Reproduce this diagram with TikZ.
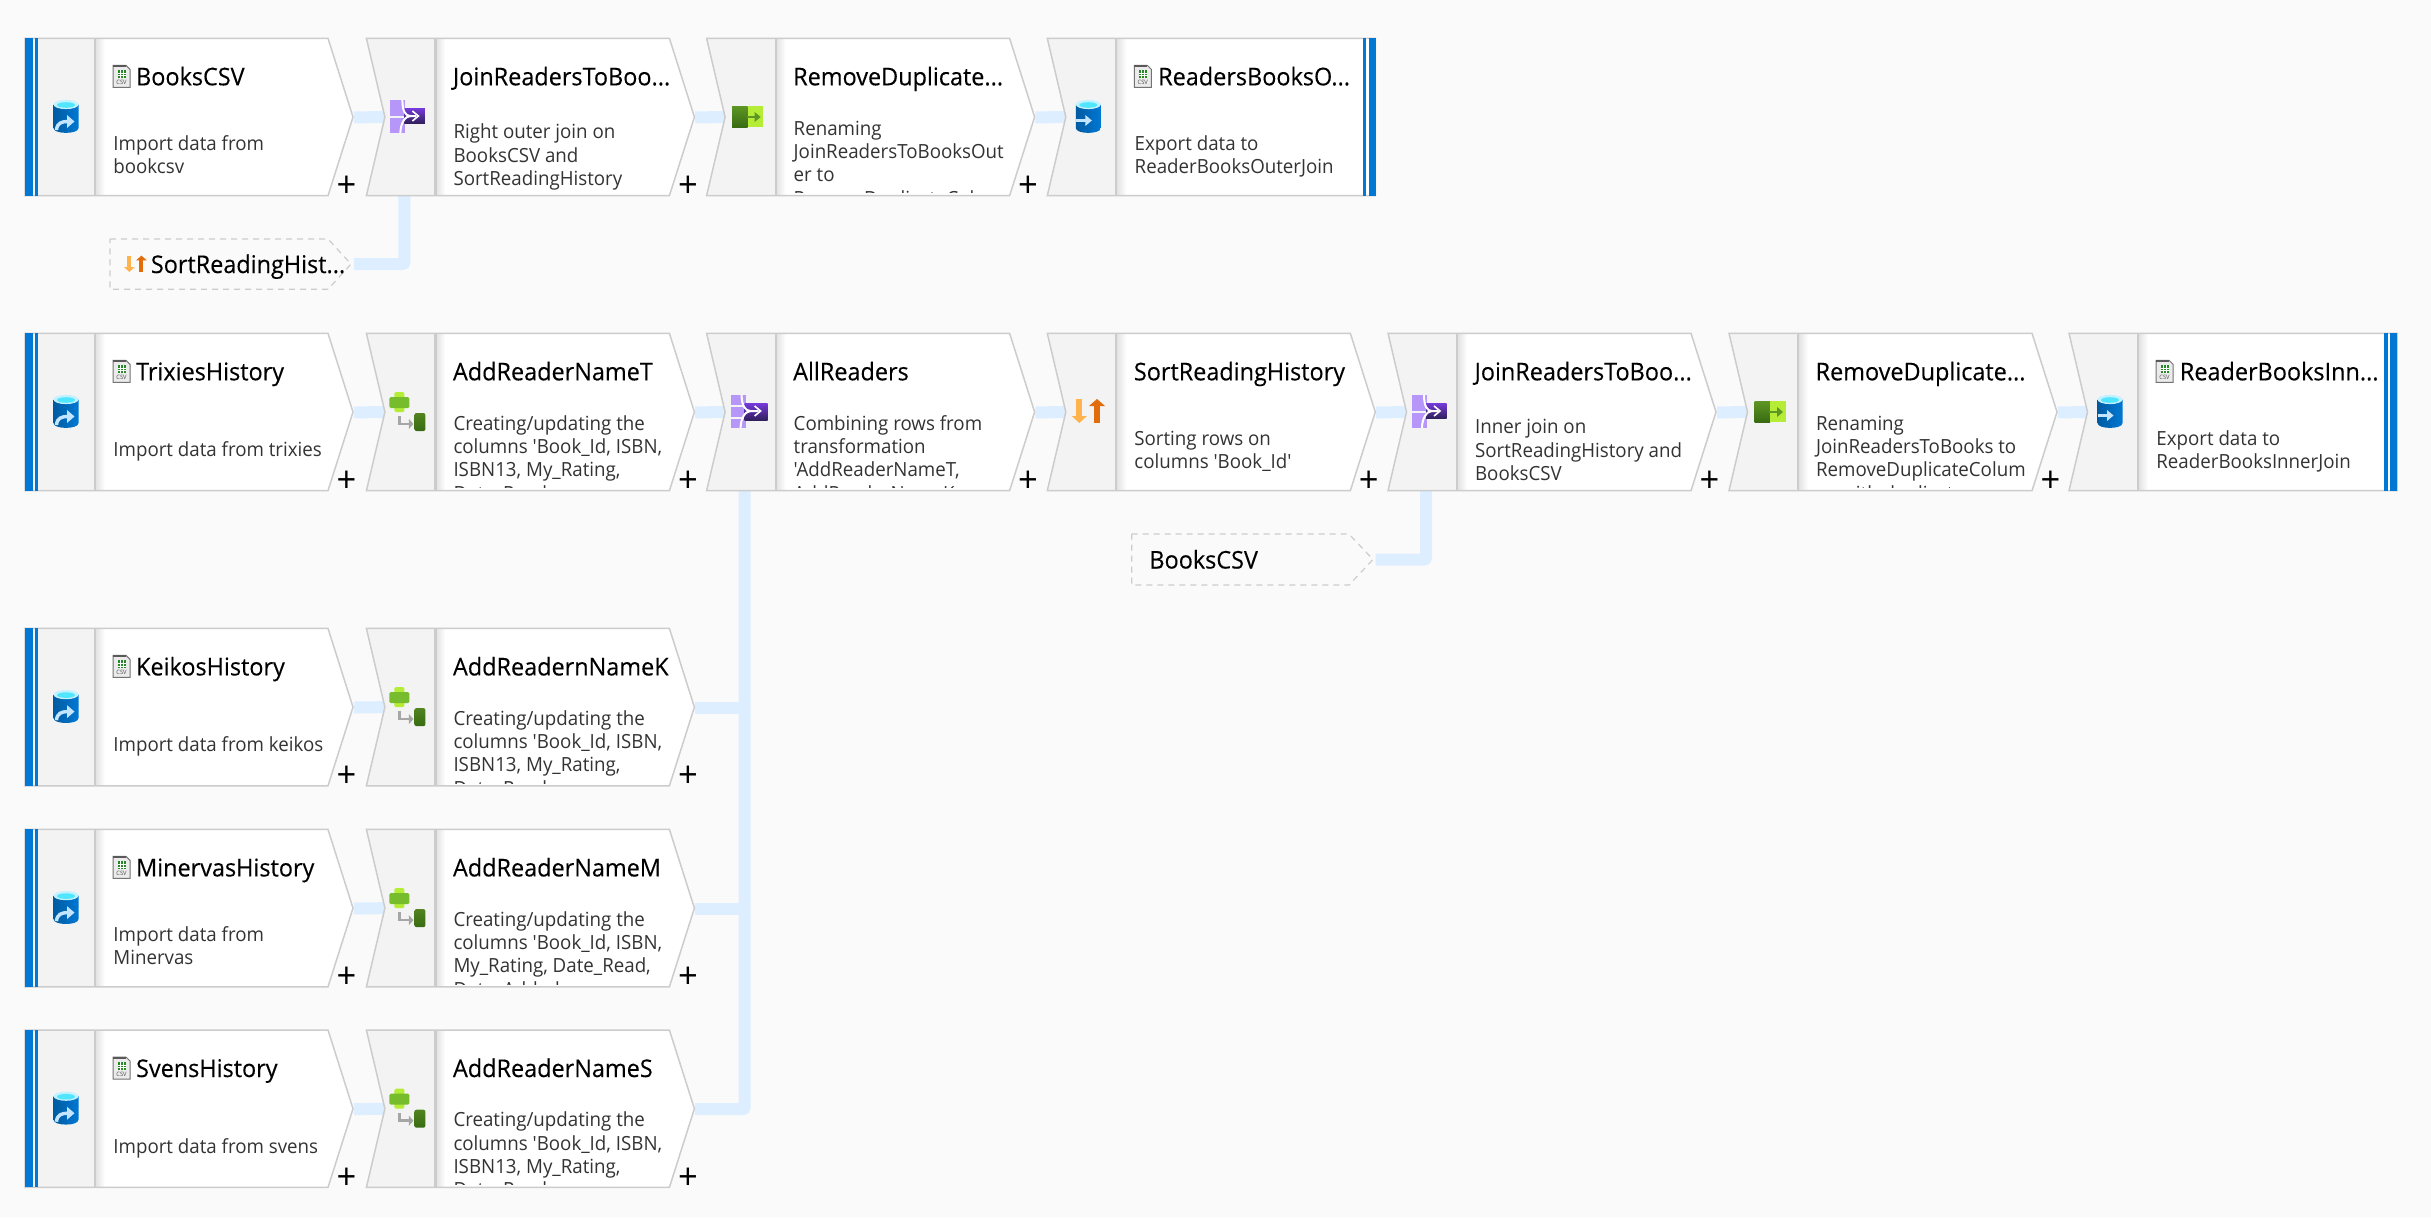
\documentclass[tikz,border=0pt]{standalone}
\usepackage{fontspec}
\setmainfont{Open Sans}[Ligatures=TeXOff,FakeStretch=0.96]
\newfontfamily\titlefamily{Open Sans}[Ligatures=TeXOff,FakeStretch=0.96,FakeBold=0.25]
\usetikzlibrary{backgrounds}
\definecolor{pagebg}{HTML}{FAFAFA}
\definecolor{panelc}{HTML}{F3F3F3}
\definecolor{borderc}{HTML}{CCCCCC}
\definecolor{connc}{HTML}{DCEEFF}
\definecolor{stripec}{HTML}{0078D4}
\definecolor{descc}{HTML}{333333}
\definecolor{lpurple}{HTML}{B796F9}
\definecolor{dpurple}{HTML}{32205E}
\definecolor{mpurple}{HTML}{773ADC}
\definecolor{lime}{HTML}{B4EC36}
\definecolor{mgreen}{HTML}{76BC2D}
\definecolor{dgreen}{HTML}{386B12}
\definecolor{ngreen}{HTML}{5E9624}
\definecolor{lorange}{HTML}{FFB34D}
\definecolor{dorange}{HTML}{E36C0A}
\definecolor{cyl}{HTML}{0078D4}
\definecolor{cyld}{HTML}{005BA1}
\definecolor{cylt}{HTML}{50E6FF}
\definecolor{cylr}{HTML}{C3F1FF}
\definecolor{arrowc}{HTML}{C3E5FF}
\tikzset{
  x=0.5pt,y=-0.5pt,
  conn/.style={draw=connc,line width=6pt,rounded corners=1pt},
  stageframe/.style={draw=borderc,line width=0.75pt,line join=miter},
  titletext/.style={inner sep=0pt,anchor=base west,font=\titlefamily\fontsize{12.2}{14}\selectfont,text=black},
  desctext/.style={inner sep=0pt,anchor=base west,font=\fontsize{9.75}{11.7}\selectfont,text=descc},
  plustext/.style={inner sep=0pt,font=\fontsize{18}{18}\selectfont,text=black},
  refframe/.style={draw=borderc,line width=0.6pt,dash pattern=on 3pt off 2.5pt},
}
\newcommand{\Ln}[1]{\hbox{#1}}
\newcommand{\kindsrc}{\def\stagepath{(0,0)--(303,0)--(328,78.7)--(303,157.4)--(0,157.4)--cycle}\def\divx{70}\def\titlex{110.7}\def\descx{88}\def\csvx{88}}
\newcommand{\kindmid}{\def\stagepath{(0,0)--(303,0)--(328,78.7)--(303,157.4)--(0,157.4)--(18.5,78.7)--cycle}\def\divx{69}\def\titlex{86.2}\def\descx{86.7}}
\newcommand{\kindsnk}{\def\stagepath{(0,0)--(328,0)--(328,157.4)--(0,157.4)--(18.5,78.7)--cycle}\def\divx{69}\def\titlex{110.5}\def\descx{87}\def\csvx{87}}
% icons: origin at icon centre
\newcommand{\cylbody}{%
  \shade[left color=cyld,right color=cyl] (-12.5,-12.5) -- (-12.5,11) .. controls (-12.5,17.5) and (12.5,17.5) .. (12.5,11) -- (12.5,-12.5) -- cycle;
  \fill[cylr] (0,-12.5) ellipse [x radius=12.5,y radius=4.6];
  \fill[cylt] (0,-12) ellipse [x radius=9,y radius=2.8];
}
\newcommand{\iconsource}{\cylbody
  \draw[arrowc,line width=1.7pt] (-9.5,13) .. controls (-9,6) and (-4,4.5) .. (1.5,4.5);
  \fill[arrowc] (1,-2) -- (8.5,4.5) -- (1,11) -- cycle;
}
\newcommand{\iconsink}{\cylbody
  \draw[arrowc,line width=1.5pt] (-12.5,3.5) -- (-2,3.5);
  \fill[arrowc] (-3,-2) -- (3.5,3.5) -- (-3,9) -- cycle;
}
\newcommand{\iconjoin}{%
  \fill[lpurple] (-17,-17) rectangle (-2,-1.2);
  \fill[lpurple] (-17,1.2) rectangle (-2,16);
  \shade[top color=mpurple,bottom color=dpurple] (-3,-9) rectangle (17.5,6);
  \draw[white,line width=1pt] (-5,-17) .. controls (-5,-6) and (-2,-1) .. (3,-1) -- (9,-1);
  \draw[white,line width=1pt] (-7,16) .. controls (-7,6) and (-2,-1) .. (3,-1);
  \draw[white,line width=0.8pt] (5,-6) -- (11,-1) -- (5,4);
}
\newcommand{\iconunion}{%
  \fill[lpurple] (-17,-17) rectangle (-2,-7.5);
  \fill[lpurple] (-17,-5.5) rectangle (-2,5);
  \fill[lpurple] (-17,7) rectangle (-2,16);
  \shade[top color=mpurple,bottom color=dpurple] (-3,-9) rectangle (20,8);
  \draw[white,line width=1pt] (-6,-17) .. controls (-6,-6) and (-2,-1) .. (3,-1) -- (11,-1);
  \draw[white,line width=1pt] (-7,16) .. controls (-7,6) and (-2,-1) .. (3,-1);
  \draw[white,line width=0.8pt] (7,-6) -- (13,-1) -- (7,4);
}
\newcommand{\iconderive}{%
  \fill[lime,rounded corners=0.7pt] (-13,-20) rectangle (-3,0);
  \fill[mgreen,rounded corners=0.7pt] (-18,-15) rectangle (2,-4);
  \draw[black!35,line width=1.3pt] (-8,4) -- (-8,12) -- (3,12);
  \fill[black!35] (1.5,7) -- (6,12) -- (1.5,17) -- cycle;
  \shade[top color=mgreen!70!black,bottom color=dgreen,rounded corners=1pt] (7,1) rectangle (18,19);
}
\newcommand{\iconselect}{%
  \shade[top color=ngreen,bottom color=dgreen] (-15.5,-11) rectangle (0,10);
  \fill[lime] (0,-11) rectangle (15.5,10);
  \draw[ngreen,line width=1pt] (-1,0) -- (9,0);
  \fill[ngreen] (7,-5) -- (13,0) -- (7,5) -- cycle;
}
\newcommand{\iconsort}{%
  \fill[lorange] (-12,-13) rectangle (-6,4);
  \fill[lorange] (-16.6,4) -- (-1.4,4) -- (-9,11) -- cycle;
  \fill[dorange] (5.7,-6) rectangle (11.7,11);
  \fill[dorange] (0.7,-6) -- (8.7,-13) -- (16.7,-6) -- cycle;
}
\newcommand{\iconcsv}{%
  \fill[white!92!black,draw=black!55,line width=0.5pt] (0,0) -- (13,0) -- (17,4) -- (17,22) -- (0,22) -- cycle;
  \fill[black!65] (0,0) rectangle (13,2);
  \fill[green!45!black!85] (4.5,5) rectangle (12.5,13);
  \draw[white,line width=0.2pt] (7.2,5) -- (7.2,13) (9.8,5) -- (9.8,13) (4.5,7.7) -- (12.5,7.7) (4.5,10.3) -- (12.5,10.3);
  \node[inner sep=0pt,font=\fontsize{3}{3}\selectfont,text=black!70] at (8.5,17) {CSV};
}
% #1 name #2 kind #3 x #4 top #5 icon #6 title #7 first baseline #8 lines
\newcommand{\stage}[8]{%
\begin{scope}[shift={(#3,#4)}]
  \csname kind#2\endcsname
  \node[inner sep=0pt,anchor=north west,minimum width=164pt,minimum height=78.7pt] (#1) at (0,0) {};
  \coordinate (#1-port) at (38,157.4);
  \coordinate (#1-in) at (24,78.7);
  \fill[white] \stagepath;
  \begin{scope}
    \clip \stagepath;
    \fill[panelc] (0,0) rectangle (\divx,157.4);
    \shade[left color=black!12,right color=white] (\divx,0) rectangle (\divx+10,157.4);
  \end{scope}
  \draw[stageframe] \stagepath;
  \draw[borderc,line width=1.1pt] (\divx,0) -- (\divx,157.4);
  \begin{scope}[shift={(41,78.7)}] #5 \end{scope}
  \node[titletext,name=#1-title] at (\titlex,47) {#6};
  \begin{scope}
    \clip (\divx,0) rectangle (328,154.6);
    \node[desctext,name=#1-desc] at (\descx,#7) {\vtop{#8}};
  \end{scope}
  \csname extra#2\endcsname{#1}
\end{scope}}
\newcommand{\extrasrc}[1]{%
  \fill[stripec] (0.3,0) rectangle (7.6,157.4);
  \fill[stripec] (10,0) rectangle (13.4,157.4);
  \begin{scope}[shift={(\csvx,27)}]\iconcsv\end{scope}
  \node[plustext,name=#1-plus] at (321.5,148.5) {+};
}
\newcommand{\extramid}[1]{\node[plustext,name=#1-plus] at (321.5,148.5) {+};}
\newcommand{\extrasnk}[1]{%
  \fill[stripec] (315.4,0) rectangle (318.7,157.4);
  \fill[stripec] (321.4,0) rectangle (328.3,157.4);
  \begin{scope}[shift={(\csvx,27)}]\iconcsv\end{scope}
}
\newcommand{\createcols}{\Ln{Creating/updating the}\Ln{columns 'Book\_Id, ISBN,}}
\begin{document}
\begin{tikzpicture}
\useasboundingbox (0,0) rectangle (2431,1217);
\begin{pgfonlayer}{background}
  \fill[pagebg] (0,0) rectangle (2431,1217);
\end{pgfonlayer}
% row 1
\stage{books}{src}{25}{38.3}{\iconsource}{BooksCSV}{111.7}{\Ln{Import data from}\Ln{bookcsv}}
\stage{joinouter}{mid}{366.4}{38.3}{\iconjoin}{JoinReadersToBoo...}{100.5}{\Ln{Right outer join on}\Ln{BooksCSV and}\Ln{SortReadingHistory}}
\stage{removeouter}{mid}{706.6}{38.3}{\iconselect}{RemoveDuplicate...}{96.7}{\Ln{Renaming}\Ln{JoinReadersToBooksOut}\Ln{er to}\Ln{RemoveDuplicateColu}}
\stage{sinkouter}{snk}{1047.3}{38.3}{\iconsink}{ReadersBooksO...}{111.7}{\Ln{Export data to}\Ln{ReaderBooksOuterJoin}}
% row 2
\stage{trixies}{src}{25}{333.3}{\iconsource}{TrixiesHistory}{123.3}{\Ln{Import data from trixies}}
\stage{addt}{mid}{366.4}{333.3}{\iconderive}{AddReaderNameT}{96.7}{\createcols\Ln{ISBN13, My\_Rating,}\Ln{Date\_Read,}}
\stage{allreaders}{mid}{706.6}{333.3}{\iconunion}{AllReaders}{96.7}{\Ln{Combining rows from}\Ln{transformation}\Ln{'AddReaderNameT,}\Ln{AddReaderNameK,}}
\stage{sort}{mid}{1047.3}{333.3}{\iconsort}{SortReadingHistory}{111.7}{\Ln{Sorting rows on}\Ln{columns 'Book\_Id'}}
\stage{joininner}{mid}{1388}{333.3}{\iconjoin}{JoinReadersToBoo...}{100.5}{\Ln{Inner join on}\Ln{SortReadingHistory and}\Ln{BooksCSV}}
\stage{removeinner}{mid}{1729}{333.3}{\iconselect}{RemoveDuplicate...}{96.7}{\Ln{Renaming}\Ln{JoinReadersToBooks to}\Ln{RemoveDuplicateColum}\Ln{ns with duplicate}}
\stage{sinkinner}{snk}{2069}{333.3}{\iconsink}{ReaderBooksInn...}{111.7}{\Ln{Export data to}\Ln{ReaderBooksInnerJoin}}
% row 3-5
\stage{keikos}{src}{25}{628.4}{\iconsource}{KeikosHistory}{123.3}{\Ln{Import data from keikos}}
\stage{addk}{mid}{366.4}{628.4}{\iconderive}{AddReadernNameK}{96.7}{\createcols\Ln{ISBN13, My\_Rating,}\Ln{Date\_Read,}}
\stage{minervas}{src}{25}{829.4}{\iconsource}{MinervasHistory}{111.7}{\Ln{Import data from}\Ln{Minervas}}
\stage{addm}{mid}{366.4}{829.4}{\iconderive}{AddReaderNameM}{96.7}{\createcols\Ln{My\_Rating, Date\_Read,}\Ln{Date\_Added,}}
\stage{svens}{src}{25}{1030}{\iconsource}{SvensHistory}{123.3}{\Ln{Import data from svens}}
\stage{adds}{mid}{366.4}{1030}{\iconderive}{AddReaderNameS}{96.7}{\createcols\Ln{ISBN13, My\_Rating,}\Ln{Date\_Read,}}
% reference nodes
\node[inner sep=0pt,minimum width=120.5pt,minimum height=25.2pt,anchor=west] (refsort) at (110,264) {};
\draw[refframe] (110,239) -- (328,239) -- (351,264) -- (328,289.3) -- (110,289.3) -- cycle;
\begin{scope}[shift={(135.5,264.5)},scale=0.68]\iconsort\end{scope}
\node[titletext,name=refsort-title] at (150.5,273) {SortReadingHist...};
\node[inner sep=0pt,minimum width=120.5pt,minimum height=25.5pt,anchor=west] (refbooks) at (1131.7,559.5) {};
\draw[refframe] (1131.7,534) -- (1349,534) -- (1373,559.5) -- (1349,585) -- (1131.7,585) -- cycle;
\node[titletext,name=refbooks-title] at (1149,568.5) {BooksCSV};
% connectors
\begin{pgfonlayer}{background}
  \foreach \a/\b in {books/joinouter,joinouter/removeouter,removeouter/sinkouter,
     trixies/addt,addt/allreaders,allreaders/sort,sort/joininner,joininner/removeinner,removeinner/sinkinner,
     keikos/addk,minervas/addm,svens/adds}
    \draw[conn] (\a.east) -- (\b-in);
  \draw[conn,shorten <=1pt] (refsort.east) -| (joinouter-port);
  \draw[conn,shorten <=1pt] (refbooks.east) -| (joininner-port);
  \draw[conn] (addk.east) -- (addk.east -| allreaders-port);
  \draw[conn] (addm.east) -- (addm.east -| allreaders-port);
  \draw[conn] (adds.east) -| (allreaders-port);
\end{pgfonlayer}
\end{tikzpicture}
\end{document}
